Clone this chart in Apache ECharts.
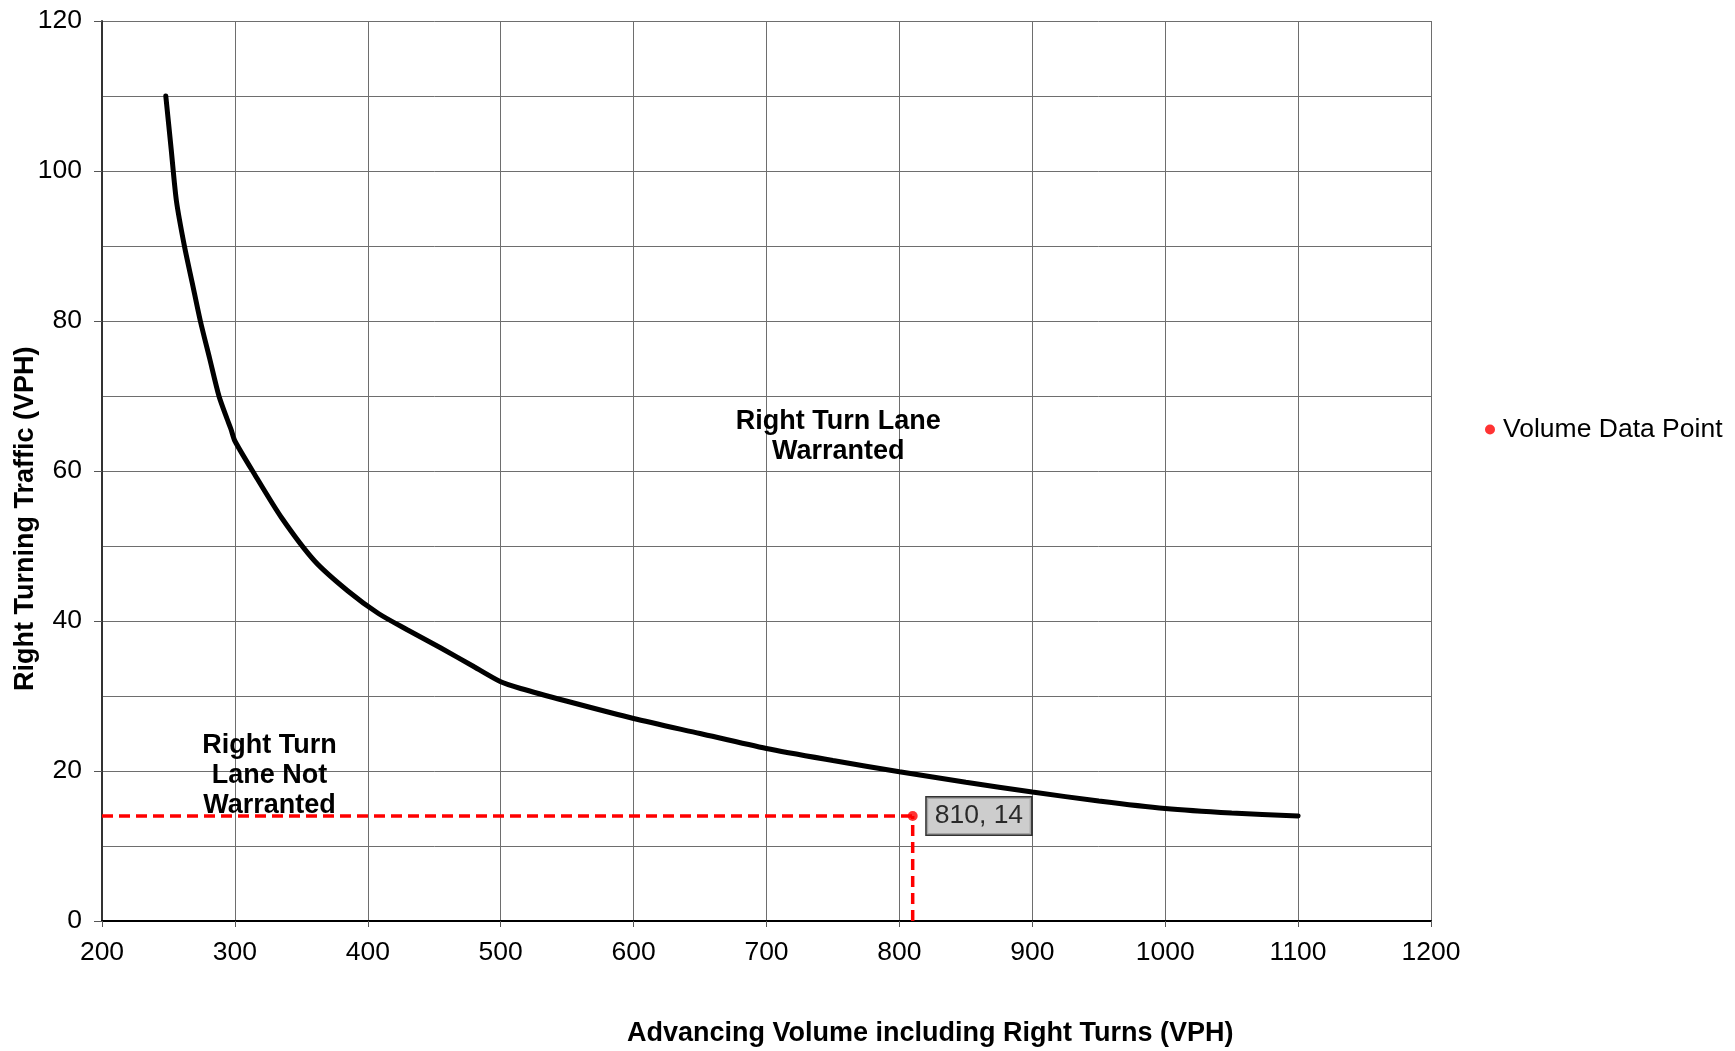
<!DOCTYPE html>
<html>
<head>
<meta charset="utf-8">
<script src="https://cdn.jsdelivr.net/npm/echarts@6/dist/echarts.min.js"></script>
<style>html,body{margin:0;padding:0;background:#fff;}#c{width:1735px;height:1051px;}</style>
</head>
<body>
<div id="c"></div>
<script>
// Warrant curve (advancing volume, right turning traffic)
const curveX = [248, 252, 256, 262, 268, 274, 281, 288, 294, 297, 300, 315, 335, 360, 385, 408, 430, 455, 480, 500, 515, 550, 600, 650, 700, 750, 800, 850, 900, 950, 1000, 1050, 1100];
const curveY = [110, 103, 96, 90, 85, 80, 75, 70, 67, 65.6, 64, 59.5, 53.8, 48, 44, 41, 38.8, 36.4, 33.9, 31.9, 31.0, 29.3, 27.0, 25.0, 23.0, 21.4, 19.9, 18.5, 17.2, 16.0, 15.0, 14.4, 14.0];
// Volume data point
const pointX = 810;
const pointY = 14;
const xTicks = [200, 300, 400, 500, 600, 700, 800, 900, 1000, 1100, 1200];
const yTicks = [0, 20, 40, 60, 80, 100, 120];
// Region annotations (anchor in data coordinates)
const noteTexts = ['Right Turn Lane\nWarranted', 'Right Turn\nLane Not\nWarranted'];
const noteX = [754, 326];
const noteY = [64.6, 19.4];

const FONT = '"Liberation Sans", Arial, sans-serif';
const FS = 26.5;
const chart = echarts.init(document.getElementById('c'));
const curve = curveX.map((x, i) => [x, curveY[i]]);

chart.setOption({
  animation: false,
  backgroundColor: '#fff',
  textStyle: { fontFamily: FONT },
  grid: { left: 102, top: 21, right: 304, bottom: 130, containLabel: false },
  legend: {
    data: [{ name: 'Volume Data Point', icon: 'circle' }],
    left: 1480, top: 411,
    itemWidth: 10, itemHeight: 10, itemGap: 4,
    textStyle: { fontSize: FS, color: '#000', fontFamily: FONT, padding: [0, 0, 0, 3] }
  },
  xAxis: {
    type: 'value', min: xTicks[0], max: xTicks[xTicks.length - 1], interval: 100,
    axisLine: { show: true, onZero: false, lineStyle: { color: '#000', width: 2 } },
    axisTick: { show: true, length: 6, lineStyle: { color: '#555' } },
    axisLabel: { fontSize: FS, color: '#000', margin: 18, fontFamily: FONT, formatter: v => String(v) },
    splitLine: { show: true, lineStyle: { color: '#6e6e6e', width: 1 } }
  },
  yAxis: {
    type: 'value', min: yTicks[0], max: yTicks[yTicks.length - 1], interval: 20,
    axisLine: { show: true, onZero: false, lineStyle: { color: '#333', width: 2 } },
    axisTick: { show: true, length: 8, lineStyle: { color: '#555' } },
    axisLabel: { fontSize: FS, color: '#000', margin: 20, fontFamily: FONT, formatter: v => String(v) },
    splitLine: { show: true, lineStyle: { color: '#6e6e6e', width: 1 } },
    minorTick: { show: false, splitNumber: 2 },
    minorSplitLine: { show: true, lineStyle: { color: '#6e6e6e', width: 1 } }
  },
  series: [
    {
      name: 'Curve', type: 'line', data: curve, smooth: 0.25,
      showSymbol: false, lineStyle: { color: '#000', width: 5, cap: 'round' }, z: 3
    },
    {
      name: 'hline', type: 'line', data: [[xTicks[0], pointY], [pointX, pointY]],
      showSymbol: false, lineStyle: { color: '#ff0000', width: 3.5, type: [11, 6] }, z: 4, silent: true
    },
    {
      name: 'vline', type: 'line', data: [[pointX, yTicks[0]], [pointX, pointY]],
      showSymbol: false, lineStyle: { color: '#ff0000', width: 3.5, type: [11, 6] }, z: 4, silent: true
    },
    {
      name: 'Volume Data Point', type: 'scatter', data: [[pointX, pointY]],
      symbol: 'circle', symbolSize: 10, itemStyle: { color: '#ff0000' }, z: 5,
      label: {
        show: true, position: 'right', distance: 9,
        formatter: p => p.value[0] + ', ' + p.value[1],
        fontSize: FS, color: '#000', fontFamily: FONT,
        backgroundColor: '#c0c0c0', borderColor: '#000', borderWidth: 1.5,
        padding: [6, 8, 4, 8]
      }
    }
  ]
});

const noteGraphics = noteTexts.map((t, i) => {
  const p = chart.convertToPixel({ gridIndex: 0 }, [noteX[i], noteY[i]]);
  return {
    type: 'text', x: p[0], y: p[1], z: 10,
    style: { text: t, fontSize: 27, fontWeight: 'bold', fill: '#000', fontFamily: FONT,
             align: 'center', verticalAlign: 'middle', lineHeight: 30 }
  };
});

chart.setOption({
  graphic: [
    {
      type: 'text', left: 627, top: 1020,
      style: { text: 'Advancing Volume including Right Turns (VPH)', fontSize: 27, fontWeight: 'bold', fill: '#000', fontFamily: FONT }
    },
    {
      type: 'text', x: 12, y: 691, rotation: Math.PI / 2,
      style: { text: 'Right Turning Traffic (VPH)', fontSize: 27, fontWeight: 'bold', fill: '#000', fontFamily: FONT }
    }
  ].concat(noteGraphics)
});
</script>
</body>
</html>
